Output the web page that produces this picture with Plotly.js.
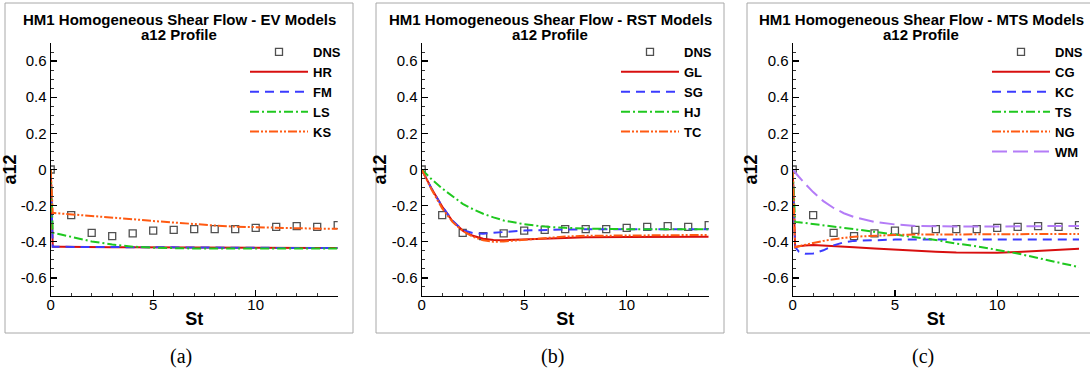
<!DOCTYPE html>
<html>
<head>
<meta charset="utf-8">
<script src="https://cdn.plot.ly/plotly-3.0.1.min.js"></script>
<style>
  html, body { margin: 0; padding: 0; background: #fff; }
  #chart { width: 1090px; height: 380px; }
</style>
</head>
<body>
<div id="chart"></div>
<script>
// ---------------- data ----------------
const panelTitles = ["HM1 Homogeneous Shear Flow - EV Models",
                     "HM1 Homogeneous Shear Flow - RST Models",
                     "HM1 Homogeneous Shear Flow - MTS Models"];
const subTitle = "a12 Profile";
const captions = ["(a)", "(b)", "(c)"];
const xTitle = "St";
const yTitle = "a12";
const xTickVals = [0, 5, 10];
const xTickText = ["0", "5", "10"];
const yTickVals = [0.6, 0.4, 0.2, 0, -0.2, -0.4, -0.6];
const yTickText = ["0.6", "0.4", "0.2", "0", "-0.2", "-0.4", "-0.6"];

// DNS reference points (same in all panels)
const dnsSt = [0, 1, 2, 3, 4, 5, 6, 7, 8, 9, 10, 11, 12, 13, 14];
const dnsA12 = [0, -0.253, -0.351, -0.369, -0.354, -0.338, -0.334, -0.33, -0.33, -0.33, -0.323, -0.317, -0.313, -0.317, -0.308];

// (a) EV models
const evSt = [0, 0.1, 0.5, 1, 2, 3, 4, 5, 6, 7, 8, 9, 10, 11, 12, 13, 14];
const evHR = [0, -0.428, -0.428, -0.429, -0.429, -0.43, -0.43, -0.431, -0.431, -0.432, -0.432, -0.433, -0.433, -0.434, -0.434, -0.435, -0.435];
const evFM = [0, -0.427, -0.428, -0.428, -0.429, -0.43, -0.43, -0.431, -0.431, -0.432, -0.432, -0.433, -0.433, -0.434, -0.434, -0.435, -0.435];
const evLS = [0, -0.35, -0.36, -0.373, -0.398, -0.415, -0.427, -0.433, -0.436, -0.437, -0.437, -0.437, -0.437, -0.437, -0.437, -0.437, -0.437];
const evKS = [0, -0.24, -0.244, -0.248, -0.256, -0.265, -0.275, -0.285, -0.294, -0.302, -0.31, -0.316, -0.32, -0.323, -0.325, -0.327, -0.328];

// (b) RST models
const rstSt = [0, 0.5, 1, 1.5, 2, 2.5, 3, 3.5, 4, 5, 6, 7, 8, 10, 12, 14];
const rstGL = [0, -0.11, -0.205, -0.285, -0.338, -0.367, -0.383, -0.39, -0.391, -0.386, -0.381, -0.378, -0.375, -0.373, -0.372, -0.372];
const rstSG = [0, -0.11, -0.205, -0.283, -0.335, -0.352, -0.355, -0.352, -0.346, -0.338, -0.334, -0.332, -0.331, -0.33, -0.33, -0.33];
const rstHJ = [0, -0.056, -0.105, -0.15, -0.19, -0.22, -0.245, -0.265, -0.282, -0.303, -0.316, -0.323, -0.327, -0.33, -0.331, -0.331];
const rstTC = [0, -0.115, -0.215, -0.29, -0.34, -0.372, -0.392, -0.4, -0.398, -0.388, -0.378, -0.371, -0.367, -0.364, -0.362, -0.362];

// (c) MTS models
const mtsSt = [0, 0.12, 0.3, 0.6, 1, 1.5, 2, 2.5, 3, 4, 5, 6, 7, 8, 9, 10, 11, 12, 13, 14];
const mtsCG = [0, -0.43, -0.425, -0.42, -0.418, -0.42, -0.423, -0.427, -0.43, -0.437, -0.444, -0.45, -0.455, -0.459, -0.461, -0.46, -0.456, -0.451, -0.445, -0.439];
const mtsKC = [0, -0.43, -0.455, -0.466, -0.465, -0.447, -0.42, -0.403, -0.395, -0.39, -0.388, -0.387, -0.387, -0.387, -0.387, -0.387, -0.387, -0.387, -0.387, -0.387];
const mtsTS = [0, -0.29, -0.292, -0.296, -0.3, -0.307, -0.315, -0.322, -0.33, -0.345, -0.36, -0.375, -0.39, -0.41, -0.425, -0.445, -0.465, -0.49, -0.515, -0.54];
const mtsNG = [0, -0.43, -0.425, -0.416, -0.407, -0.395, -0.385, -0.378, -0.372, -0.366, -0.362, -0.36, -0.359, -0.359, -0.358, -0.358, -0.358, -0.357, -0.357, -0.357];
const mtsWM = [0, -0.017, -0.04, -0.078, -0.125, -0.175, -0.213, -0.242, -0.263, -0.29, -0.304, -0.312, -0.315, -0.316, -0.316, -0.316, -0.315, -0.315, -0.314, -0.312];

// ---------------- styles ----------------
const W = 1090, H = 380;
const px = p => p / W;
const py = p => 1 - p / H;
const FONT = "Liberation Sans, Arial, sans-serif";

const RED = "#d80f0f", BLUE = "#3b3bff", GREEN = "#1fc81f", ORANGE = "#ff5a12", PURPLE = "#b47cf7";
const styles = {
  solid:   "solid",
  dash:    "9px,6px",
  dashdot: "9px,3px,2px,3px",
  dashdd:  "9px,2px,2px,2px,2px,2px",
  longdash:"15px,6px"
};

const panels = [
  { left: 5,   x0: 50.7,  x1: 337.7, series: [
      ["HR", evSt, evHR, RED, styles.solid], ["FM", evSt, evFM, BLUE, styles.dash],
      ["LS", evSt, evLS, GREEN, styles.dashdot], ["KS", evSt, evKS, ORANGE, styles.dashdd]] },
  { left: 376, x0: 421.7, x1: 708.7, series: [
      ["GL", rstSt, rstGL, RED, styles.solid], ["SG", rstSt, rstSG, BLUE, styles.dash],
      ["HJ", rstSt, rstHJ, GREEN, styles.dashdot], ["TC", rstSt, rstTC, ORANGE, styles.dashdd]] },
  { left: 747, x0: 792.7, x1: 1079, series: [
      ["CG", mtsSt, mtsCG, RED, styles.solid], ["KC", mtsSt, mtsKC, BLUE, styles.dash],
      ["TS", mtsSt, mtsTS, GREEN, styles.dashdot], ["NG", mtsSt, mtsNG, ORANGE, styles.dashdd],
      ["WM", mtsSt, mtsWM, PURPLE, styles.longdash]] }
];

const data = [];
const layout = {
  width: W, height: H,
  margin: { l: 0, r: 0, t: 0, b: 0 },
  paper_bgcolor: "#fff", plot_bgcolor: "#fff",
  font: { family: FONT, color: "#000" },
  showlegend: true,
  shapes: [], annotations: []
};

panels.forEach((p, i) => {
  const n = i === 0 ? "" : String(i + 1);
  const xr = "x" + n, yr = "y" + n;
  const legName = "legend" + n;

  data.push({
    x: dnsSt, y: dnsA12, xaxis: xr, yaxis: yr, legend: legName,
    name: "DNS", mode: "markers", type: "scatter",
    marker: { symbol: "square-open", size: 7, color: "#505050", line: { width: 1.3, color: "#505050" } }
  });
  p.series.forEach(s => {
    data.push({
      x: s[1], y: s[2], xaxis: xr, yaxis: yr, legend: legName,
      name: s[0], mode: "lines", type: "scatter",
      line: { color: s[3], width: 2, dash: s[4] }
    });
  });

  const axisCommon = {
    showline: true, linecolor: "#000", linewidth: 1.2,
    ticks: "inside", ticklen: 6, tickwidth: 1.2, tickcolor: "#000",
    showgrid: false, zeroline: false,
    tickfont: { family: FONT, size: 15, color: "#000" },
    tickmode: "array"
  };
  layout["xaxis" + n] = Object.assign({}, axisCommon, {
    domain: [px(p.x0), px(p.x1)], anchor: yr, range: [0, 14],
    tickvals: xTickVals, ticktext: xTickText, ticklabelstandoff: -5,
    minor: { dtick: 1, tick0: 0, ticks: "inside", ticklen: 3, tickwidth: 1, tickcolor: "#333" },
    title: { text: xTitle, font: { family: FONT, size: 18, weight: "bold", color: "#000" }, standoff: 0 }
  });
  layout["yaxis" + n] = Object.assign({}, axisCommon, {
    domain: [py(296), py(43)], anchor: xr, range: [-0.7, 0.7],
    tickvals: yTickVals, ticktext: yTickText,
    minor: { dtick: 0.05, tick0: 0, ticks: "inside", ticklen: 3, tickwidth: 1, tickcolor: "#333" },
    title: { text: yTitle, font: { family: FONT, size: 18, weight: "bold", color: "#000" }, standoff: 0 }
  });

  layout[legName] = {
    x: px(p.left + 240), y: py(37), xanchor: "left", yanchor: "top",
    xref: "paper", yref: "paper",
    bgcolor: "rgba(0,0,0,0)", borderwidth: 0,
    itemwidth: 58, tracegroupgap: 0,
    font: { family: FONT, size: 13, weight: "bold", color: "#000" }
  };

  // panel frame
  layout.shapes.push({
    type: "rect", xref: "paper", yref: "paper",
    x0: px(p.left), x1: px(p.left + 348), y0: py(333), y1: py(3),
    line: { color: "#a8a8a8", width: 1 }, fillcolor: "rgba(0,0,0,0)", layer: "below"
  });
  const cx = px(p.left + 174);
  layout.annotations.push({
    text: panelTitles[i], xref: "paper", yref: "paper", x: cx, y: py(20),
    xanchor: "center", yanchor: "middle", showarrow: false,
    font: { family: FONT, size: 15, weight: "bold", color: "#000" }
  });
  layout.annotations.push({
    text: subTitle, xref: "paper", yref: "paper", x: cx, y: py(34.5),
    xanchor: "center", yanchor: "middle", showarrow: false,
    font: { family: FONT, size: 15, weight: "bold", color: "#000" }
  });
  layout.annotations.push({
    text: captions[i], xref: "paper", yref: "paper", x: cx + px(2), y: py(356),
    xanchor: "center", yanchor: "middle", showarrow: false,
    font: { family: "Liberation Serif, DejaVu Serif, serif", size: 20, color: "#000" }
  });
});

Plotly.newPlot("chart", data, layout, { displayModeBar: false, staticPlot: true });
</script>
</body>
</html>
